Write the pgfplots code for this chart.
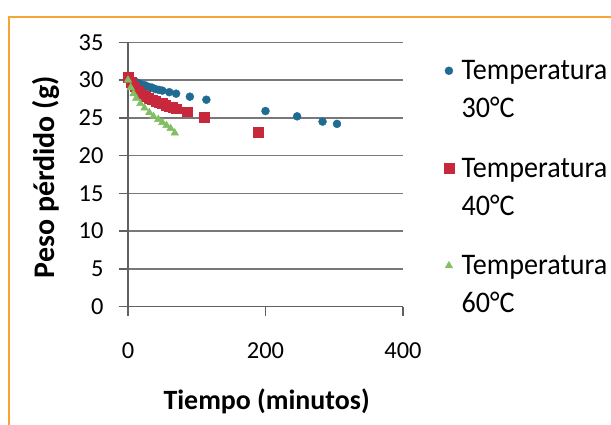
\documentclass[border=0pt]{standalone}
\usepackage{pgfplots}
\pgfplotsset{compat=1.18}
\usepackage{fontspec}
\setmainfont{Carlito}
\newfontfamily\legfont[FakeStretch=0.94]{Carlito}
\definecolor{sblue}{RGB}{30,108,145}
\definecolor{sred}{RGB}{200,40,60}
\definecolor{sgreen}{RGB}{130,190,100}
\definecolor{frame}{RGB}{247,165,50}
\definecolor{gridc}{RGB}{120,120,120}
\begin{document}
\begin{tikzpicture}
\path[use as bounding box] (0,0) rectangle (611bp,425bp);
\draw[frame, line width=1.5bp] (9bp,0) -- (9bp,408bp) -- (611bp,408bp);
\begin{axis}[
  at={(128bp,118.3bp)}, anchor=south west,
  scale only axis, width=275bp, height=264.4bp,
  xmin=0, xmax=400, ymin=0, ymax=35,
  xtick={0,200,400}, ytick={0,5,...,35},
  axis lines=left, axis line style={-, gridc!80!black, line width=1.5bp},
  ymajorgrids, grid style={gridc, line width=1.5bp},
  tick align=outside, major tick length=9bp,
  tick style={gridc!80!black, line width=1.5bp},
  /pgf/number format/assume math mode=true,
  ticklabel style={font=\fontsize{24.5}{28}\selectfont},
  xticklabel style={yshift=-23bp},
  yticklabel style={xshift=-12bp},
  xlabel={\textbf{Tiempo (minutos)}},
  ylabel={\textbf{Peso pérdido (g)}},
  xlabel style={font=\fontsize{28}{30}\selectfont, at={(axis description cs:0.504,-0.359)}, anchor=center},
  ylabel style={font=\fontsize{30}{32}\selectfont, at={(axis description cs:-0.298,0.49)}, anchor=center},
  legend style={draw=none, fill=none, at={(axis description cs:1.138,0.947)}, anchor=north west,
    font=\legfont\fontsize{30}{38}\selectfont, cells={align=left}, row sep=35bp,
    /tikz/every odd column/.append style={column sep=6bp}},
  legend image post style={yshift=19bp},
  legend cell align=left,
]
\addplot[only marks, mark=*, mark size=4bp, sblue, mark options={draw=sblue, fill=sblue}] coordinates {
(0,30.3) (5,30.0) (10,29.8) (15,29.6) (20,29.4) (25,29.3) (30,29.1) (35,29.0) (40,28.8)
(45,28.7) (50,28.6) (60,28.4) (70,28.2) (90,27.8) (114,27.4) (200,25.9) (246,25.2) (283,24.5) (304,24.2)};
\addlegendentry{Temperatura\\30°C}
\addplot[only marks, mark=square*, mark size=4.8bp, sred, mark options={draw=sred, fill=sred}] coordinates {
(0,30.4) (5,29.7) (10,29.1) (15,28.6) (20,28.2) (25,27.9) (30,27.6) (35,27.4) (40,27.2)
(45,27.0) (50,26.9) (55,26.7) (60,26.5) (65,26.4) (70,26.2) (86,25.8) (111,25.1) (189,23.1)};
\addlegendentry{Temperatura\\40°C}
\addplot[only marks, mark=triangle*, mark size=4.4bp, sgreen, mark options={draw=sgreen, fill=sgreen}] coordinates {
(0,30.0) (4,29.0) (8,28.2) (12,27.6) (18,26.9) (24,26.3) (31,25.7) (37,25.2) (44,24.8)
(50,24.4) (56,24.0) (62,23.6) (68,23.0)};
\addlegendentry{Temperatura\\60°C}
\end{axis}
\end{tikzpicture}
\end{document}
